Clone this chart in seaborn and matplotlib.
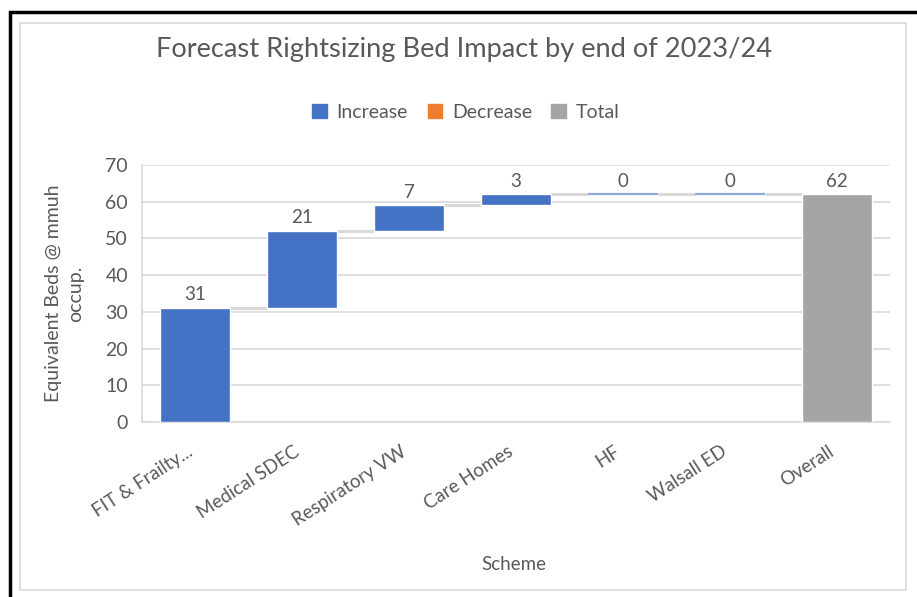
import matplotlib
matplotlib.use("Agg")
import matplotlib.pyplot as plt
from matplotlib.patches import Rectangle, Patch
from matplotlib.transforms import ScaledTranslation
import seaborn as sns
import pandas as pd
import numpy as np

# Scheme contributions (beds) and the overall total
schemes = ["FIT & Frailty...", "Medical SDEC", "Respiratory VW", "Care Homes",
           "HF", "Walsall ED", "Overall"]
changes = [31, 21, 7, 3, 0, 0]
total = 62
kinds = ["Increase"] * len(changes) + ["Total"]

BLUE = "#4472C4"
ORANGE = "#ED7D31"
GREY = "#A5A5A5"
TEXT = "#595959"
GRID = "#D9D9D9"

sns.set_theme(style="white")
plt.rcParams["font.family"] = ["Lato", "DejaVu Sans"]

values = changes + [total]
bases = list(np.concatenate([[0], np.cumsum(changes)[:-1]])) + [0]
df = pd.DataFrame({"Scheme": schemes, "Value": values, "Base": bases, "Kind": kinds})
colors = [BLUE if k == "Increase" else GREY for k in kinds]

W, H = 917, 597
fig = plt.figure(figsize=(W / 100, H / 100), dpi=100)
ax = fig.add_axes([142 / W, 1 - 422 / H, 748 / W, 257 / H])

bar_w = 0.655
sns.barplot(data=df, x="Scheme", y="Value", hue="Scheme", palette=colors,
            legend=False, width=bar_w, ax=ax, saturation=1, zorder=3)

# lift each bar onto its running base
for patch, (_, row) in zip(ax.patches, df.iterrows()):
    patch.set_y(row["Base"])
    if row["Value"] == 0:
        patch.set_edgecolor("#8FAADC")
        patch.set_linewidth(1.6)

# connector lines between consecutive bars
tops = [b + v for b, v in zip(bases, values)]
for i in range(len(values) - 1):
    ax.plot([i + bar_w / 2, i + 1 - bar_w / 2], [tops[i], tops[i]],
            color=GRID, lw=2.2, zorder=2, solid_capstyle="butt")

# value labels
for i, (t, v) in enumerate(zip(tops, values)):
    ax.text(i, t + 1.3, f"{v}", ha="center", va="bottom", fontsize=13.5, color=TEXT)

ax.set_ylim(0, 70)
ax.set_xlim(-0.5, len(schemes) - 0.5)
ax.set_yticks(range(0, 71, 10))
ax.yaxis.grid(True, color=GRID, lw=1.2)
ax.set_axisbelow(True)
for s in ["top", "right"]:
    ax.spines[s].set_visible(False)
for s in ["left", "bottom"]:
    ax.spines[s].set_color(GRID)
    ax.spines[s].set_linewidth(1.2)
ax.tick_params(axis="y", length=0, colors=TEXT, labelsize=14, pad=10)
ax.tick_params(axis="x", length=0, colors=TEXT, labelsize=13.5, pad=15)
shift = ScaledTranslation(-9 / 100, 0, fig.dpi_scale_trans)
for lbl in ax.get_xticklabels():
    lbl.set_rotation(33)
    lbl.set_ha("right")
    lbl.set_va("top")
    lbl.set_rotation_mode("anchor")
    lbl.set_transform(lbl.get_transform() + shift)

ax.set_xlabel("Scheme", fontsize=13.5, color=TEXT)
ax.xaxis.set_label_coords(0.497, -0.52)
ax.set_ylabel("Equivalent Beds @ mmuh\noccup.", fontsize=14, color=TEXT,
              linespacing=1.35)
ax.yaxis.set_label_coords(-0.078, 0.5)

fig.text(464 / W, 1 - 50 / H, "Forecast Rightsizing Bed Impact by end of 2023/24",
         ha="center", va="center", fontsize=19.6, color=TEXT)

handles = [Patch(color=BLUE, label="Increase"),
           Patch(color=ORANGE, label="Decrease"),
           Patch(color=GREY, label="Total")]
fig.legend(handles=handles, loc="center", bbox_to_anchor=(466 / W, 1 - 112 / H),
           ncol=3, frameon=False, fontsize=14, handlelength=0.75,
           handleheight=0.75, handletextpad=0.5, columnspacing=1.0,
           labelcolor=TEXT)

# chart area border and outer frame
fig.add_artist(Rectangle((20 / W, 1 - 590 / H), 886 / W, 567 / H,
                         transform=fig.transFigure, fill=False,
                         edgecolor="#D9D9D9", lw=1.2))
fig.add_artist(Rectangle((10 / W, -0.05), 1.0, 1 - 12 / H + 0.05,
                         transform=fig.transFigure, fill=False,
                         edgecolor="black", lw=2.5))

fig.savefig("out.png", dpi=100)
